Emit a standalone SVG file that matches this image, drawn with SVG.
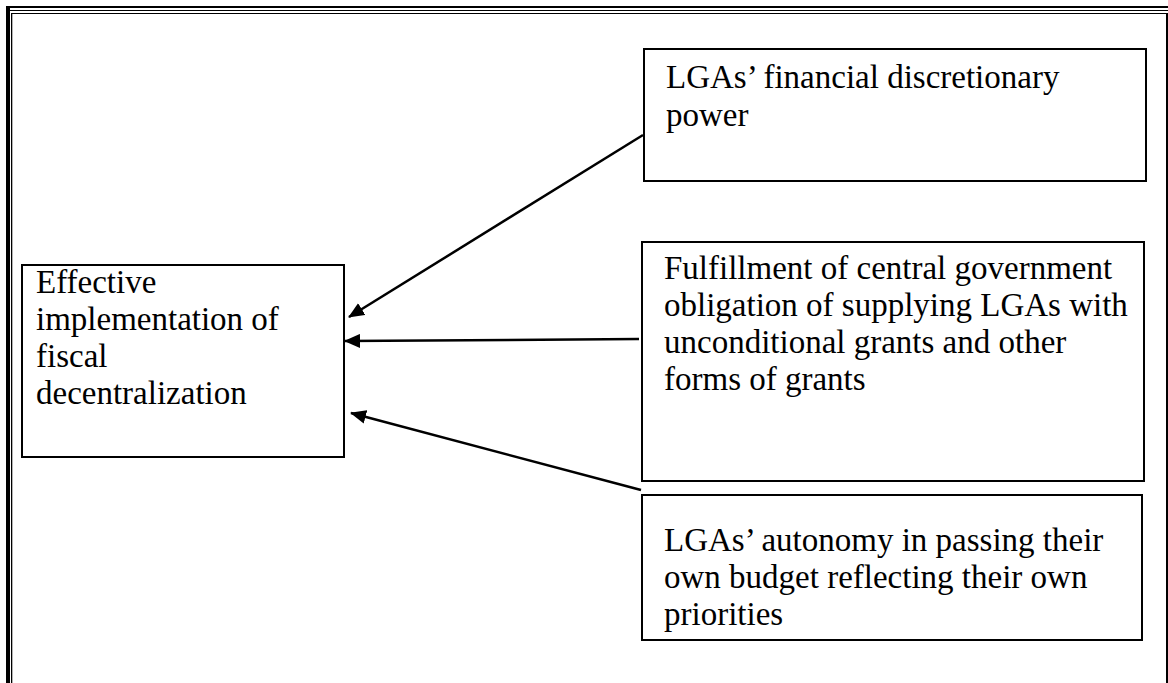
<svg xmlns="http://www.w3.org/2000/svg" width="1168" height="683" viewBox="0 0 1168 683">
<style>
.box{fill:#fff;stroke:#000;stroke-width:2}
.t{font-family:"Liberation Serif","Times New Roman",serif;font-size:33px;fill:#000}
.c{stroke:#000;stroke-width:2.5;fill:none}
</style>
<defs>
<marker id="ah" markerWidth="16" markerHeight="14" refX="15" refY="7" orient="auto" markerUnits="userSpaceOnUse">
<path d="M0,0 L16,7 L0,14 Z" fill="#000"/>
</marker>
</defs>
<rect width="1168" height="683" fill="#fff"/>
<g id="frame">
<rect x="6" y="6" width="1162" height="2" fill="#000"/>
<rect x="10" y="10" width="1158" height="1" fill="#000"/>
<rect x="11" y="13" width="1157" height="1" fill="#000"/>
<rect x="6" y="6" width="4" height="677" fill="#000"/>
<rect x="11" y="13" width="1.3" height="670" fill="#000"/>
<rect x="1166" y="13" width="2" height="670" fill="#000"/>
</g>
<g id="connectors">
<line class="c" x1="643" y1="135" x2="349" y2="317" marker-end="url(#ah)"/>
<line class="c" x1="639" y1="339" x2="345" y2="341" marker-end="url(#ah)"/>
<line class="c" x1="641" y1="490" x2="351" y2="413" marker-end="url(#ah)"/>
</g>
<g id="node-effective">
<rect class="box" x="22" y="265" width="322" height="192"/>
<text class="t"><tspan x="36" y="293">Effective</tspan><tspan x="36" y="330">implementation of</tspan><tspan x="36" y="367">fiscal</tspan><tspan x="36" y="404">decentralization</tspan></text>
</g>
<g id="node-discretionary">
<rect class="box" x="644" y="49" width="502" height="132"/>
<text class="t"><tspan x="666" y="88">LGAs’ financial discretionary</tspan><tspan x="666" y="126">power</tspan></text>
</g>
<g id="node-grants">
<rect class="box" x="642" y="242" width="502" height="239"/>
<text class="t"><tspan x="664" y="279">Fulfillment of central government</tspan><tspan x="664" y="316">obligation of supplying LGAs with</tspan><tspan x="664" y="353">unconditional grants and other</tspan><tspan x="664" y="390">forms of grants</tspan></text>
</g>
<g id="node-autonomy">
<rect class="box" x="642" y="495" width="500" height="145"/>
<text class="t"><tspan x="664" y="551">LGAs’ autonomy in passing their</tspan><tspan x="664" y="588">own budget reflecting their own</tspan><tspan x="664" y="625">priorities</tspan></text>
</g>
</svg>
